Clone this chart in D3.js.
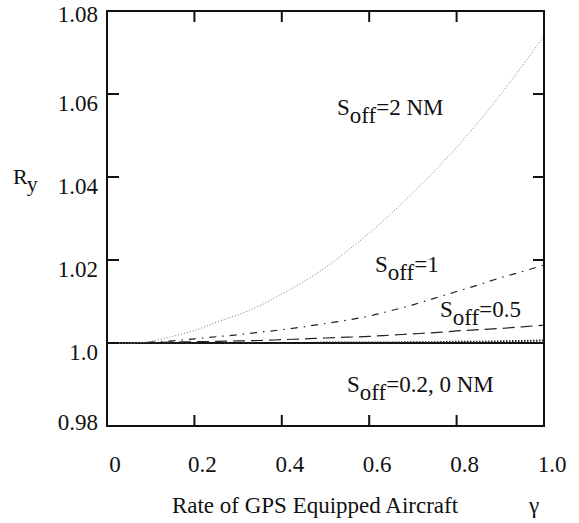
<!DOCTYPE html>
<html>
<head>
<meta charset="utf-8">
<script src="https://cdn.jsdelivr.net/npm/d3@7/dist/d3.min.js"></script>
<style>
  html, body { margin: 0; padding: 0; background: #fff; }
  svg { display: block; }
</style>
</head>
<body>
<svg id="chart" width="579" height="523"></svg>
<script>
// rate of GPS equipped aircraft (gamma)
const gamma = [0, 0.05, 0.1, 0.15, 0.2, 0.25, 0.3, 0.35, 0.4, 0.45, 0.5,
               0.55, 0.6, 0.65, 0.7, 0.75, 0.8, 0.85, 0.9, 0.95, 1.0];

// R_y for each offset distance
const rSoff2 = [1.0000, 1.0000, 1.0004, 1.0016, 1.0030, 1.0050, 1.0068, 1.0090, 1.0118, 1.0148, 1.0182,
                1.0222, 1.0265, 1.0312, 1.0362, 1.0415, 1.0471, 1.0532, 1.0598, 1.0667, 1.0740];
const rSoff1 = [1.0000, 1.0000, 1.0002, 1.0005, 1.0010, 1.0015, 1.0020, 1.0026, 1.0032, 1.0039, 1.0047,
                1.0055, 1.0065, 1.0078, 1.0092, 1.0108, 1.0124, 1.0140, 1.0157, 1.0172, 1.0188];
const rSoff05 = [1.0000, 1.0000, 1.0001, 1.0002, 1.0003, 1.0004, 1.0005, 1.0006, 1.0008, 1.0010, 1.0012,
                 1.0014, 1.0016, 1.0019, 1.0022, 1.0025, 1.0029, 1.0032, 1.0035, 1.0039, 1.0043];
const rSoff02 = [1.0000, 1.0000, 1.0000, 1.0000, 1.0000, 1.0000, 1.0000, 1.0000, 1.0000, 1.0000, 1.0001,
                 1.0001, 1.0001, 1.0001, 1.0002, 1.0002, 1.0003, 1.0003, 1.0004, 1.0005, 1.0006];
const rSoff0 = [1, 1, 1, 1, 1, 1, 1, 1, 1, 1, 1, 1, 1, 1, 1, 1, 1, 1, 1, 1, 1];

const xTicks = [0, 0.2, 0.4, 0.6, 0.8, 1.0];
const xTickLabels = ["0", "0.2", "0.4", "0.6", "0.8", "1.0"];
const yTicks = [0.98, 1.0, 1.02, 1.04, 1.06, 1.08];
const yTickLabels = ["0.98", "1.0", "1.02", "1.04", "1.06", "1.08"];

const svg = d3.select("#chart")
  .attr("font-family", "'Liberation Serif', 'Times New Roman', Times, serif")
  .attr("fill", "#111");

const x = d3.scaleLinear().domain([0, 1]).range([107, 544]);
const y = d3.scaleLinear().domain([0.98, 1.08]).range([426, 11]);

const FONT = 23;
const TICK = 11;

// curves
const series = [
  { values: rSoff0,  stroke: "#111", width: 2,   dash: null },
  { values: rSoff02, stroke: "#222", width: 2,   dash: "1.5,1.5" },
  { values: rSoff05, stroke: "#222", width: 1.2, dash: "12,6" },
  { values: rSoff1,  stroke: "#222", width: 1.2, dash: "7,6,1.5,6" },
  { values: rSoff2,  stroke: "#777", width: 1,   dash: "1,2" }
];

const line = d3.line()
  .x((d, i) => x(gamma[i]))
  .y(d => y(d))
  .curve(d3.curveMonotoneX);

svg.selectAll(".curve")
  .data(series)
  .join("path")
  .attr("class", "curve")
  .attr("d", d => line(d.values))
  .attr("fill", "none")
  .attr("stroke", d => d.stroke)
  .attr("stroke-width", d => d.width)
  .attr("stroke-dasharray", d => d.dash);

// frame
svg.append("rect")
  .attr("x", x(0)).attr("y", y(1.08))
  .attr("width", x(1) - x(0)).attr("height", y(0.98) - y(1.08))
  .attr("fill", "none").attr("stroke", "#111").attr("stroke-width", 2);

// inner ticks on all four sides
const innerX = xTicks.slice(1, -1);
const innerY = yTicks.slice(1, -1);

svg.append("g").selectAll("line").data(innerX).join("line")
  .attr("x1", d => x(d)).attr("x2", d => x(d))
  .attr("y1", y(0.98)).attr("y2", y(0.98) - TICK)
  .attr("stroke", "#111").attr("stroke-width", 2);
svg.append("g").selectAll("line").data(innerX).join("line")
  .attr("x1", d => x(d)).attr("x2", d => x(d))
  .attr("y1", y(1.08)).attr("y2", y(1.08) + TICK)
  .attr("stroke", "#111").attr("stroke-width", 2);
svg.append("g").selectAll("line").data(innerY).join("line")
  .attr("x1", x(0)).attr("x2", x(0) + TICK + 1)
  .attr("y1", d => y(d)).attr("y2", d => y(d))
  .attr("stroke", "#111").attr("stroke-width", 2);
svg.append("g").selectAll("line").data(innerY).join("line")
  .attr("x1", x(1)).attr("x2", x(1) - TICK)
  .attr("y1", d => y(d)).attr("y2", d => y(d))
  .attr("stroke", "#111").attr("stroke-width", 2);

// tick labels: inner ones hang below their tick, end ones kept inside the frame
const last = yTicks.length - 1;
svg.append("g").selectAll("text").data(yTicks).join("text")
  .attr("x", 98)
  .attr("y", (d, i) => y(d) + (i === 0 ? 4 : i === last ? 11 : 17))
  .attr("text-anchor", "end")
  .attr("font-size", FONT)
  .text((d, i) => yTickLabels[i]);

svg.append("g").selectAll("text").data(xTicks).join("text")
  .attr("x", d => x(d) + 8)
  .attr("y", 472)
  .attr("text-anchor", "middle")
  .attr("font-size", FONT)
  .text((d, i) => xTickLabels[i]);

// axis titles
svg.append("text")
  .attr("x", 315).attr("y", 513)
  .attr("text-anchor", "middle")
  .attr("font-size", FONT)
  .text("Rate of GPS Equipped Aircraft");
svg.append("text")
  .attr("x", 534).attr("y", 513)
  .attr("text-anchor", "middle")
  .attr("font-size", FONT)
  .text("γ");

const ry = svg.append("text")
  .attr("x", 13).attr("y", 184)
  .attr("font-size", 22);
ry.append("tspan").text("R");
ry.append("tspan").attr("dy", 7).text("y");

// curve annotations, Mathcad style subscripts
function soff(px, py, rest) {
  const t = svg.append("text").attr("x", px).attr("y", py).attr("font-size", FONT);
  t.append("tspan").text("S");
  t.append("tspan").attr("dy", 8).text("off");
  t.append("tspan").attr("dy", -8).text(rest);
}
soff(337, 115, "=2 NM");
soff(375, 272, "=1");
soff(440, 317, "=0.5");
soff(347, 392, "=0.2, 0 NM");
</script>
</body>
</html>
